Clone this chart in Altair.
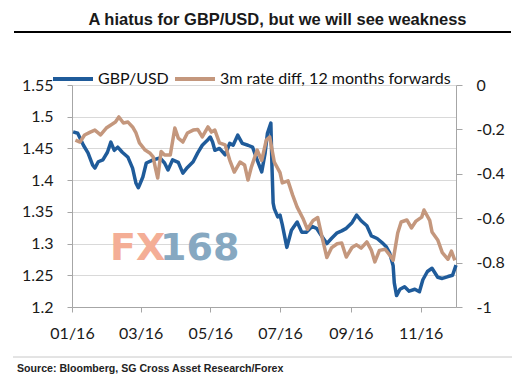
import altair as alt
import pandas as pd

title_text = "A hiatus for GBP/USD, but we will see weakness"
source_text = "Source: Bloomberg, SG Cross Asset Research/Forex"
series_names = ["GBP/USD", "3m rate diff, 12 months forwards"]
series_colors = ["#1F5B9A", "#C4977D"]

# days since 2016-01-01
gbp_days = [1, 5, 10, 14, 18, 20, 23, 27, 31, 34, 37, 40, 44, 49, 53, 56, 58, 59, 62, 65,
            71, 77, 81, 84, 88, 93, 97, 101, 106, 110, 114, 118, 121, 123, 125, 129, 134, 138, 141, 145,
            149, 154, 158, 162, 166, 169, 171, 174, 175, 176, 177, 180, 182, 184, 188, 192, 197, 201, 205, 210,
            214, 218, 223, 227, 232, 236, 240, 245, 249, 253, 258, 262, 267, 271, 275, 278, 281, 282, 284, 287,
            291, 295, 300, 304, 307, 311, 315, 320, 324, 329, 333, 336]
gbp_vals = [1.476, 1.474, 1.455, 1.443, 1.424, 1.419, 1.429, 1.432, 1.444, 1.460, 1.447, 1.452, 1.444, 1.436, 1.419, 1.395, 1.388, 1.392, 1.405, 1.427,
            1.432, 1.435, 1.427, 1.416, 1.432, 1.428, 1.411, 1.420, 1.429, 1.443, 1.455, 1.462, 1.468, 1.460, 1.447, 1.450, 1.440, 1.458, 1.455, 1.471,
            1.458, 1.455, 1.452, 1.432, 1.413, 1.443, 1.474, 1.490, 1.420, 1.364, 1.355, 1.342, 1.345, 1.330, 1.294, 1.321, 1.334, 1.318, 1.318, 1.327,
            1.324, 1.313, 1.300, 1.308, 1.317, 1.320, 1.324, 1.333, 1.345, 1.336, 1.328, 1.312, 1.308, 1.302, 1.295, 1.285, 1.265, 1.238, 1.218, 1.228,
            1.232, 1.225, 1.228, 1.224, 1.243, 1.256, 1.261, 1.247, 1.245, 1.248, 1.250, 1.266]

diff_days = [3, 7, 11, 16, 20, 25, 30, 34, 38, 41, 45, 49, 53, 56, 59, 64, 68, 71, 73, 75,
             78, 81, 86, 90, 93, 97, 101, 106, 110, 114, 119, 122, 125, 129, 134, 138, 142, 147, 151, 154,
             157, 162, 166, 170, 173, 177, 182, 184, 189, 193, 197, 202, 206, 211, 215, 219, 223, 227, 232, 236,
             240, 245, 249, 253, 258, 262, 265, 269, 274, 278, 281, 285, 288, 293, 297, 301, 306, 308, 313, 315,
             320, 324, 329, 332, 335]
diff_vals = [-0.248, -0.257, -0.225, -0.212, -0.203, -0.225, -0.194, -0.180, -0.167, -0.144, -0.171, -0.167, -0.189, -0.216, -0.261, -0.293, -0.306, -0.324, -0.374, -0.419,
             -0.300, -0.315, -0.315, -0.194, -0.239, -0.257, -0.216, -0.203, -0.200, -0.234, -0.189, -0.212, -0.203, -0.261, -0.270, -0.338, -0.392, -0.347, -0.360, -0.428,
             -0.369, -0.293, -0.340, -0.248, -0.234, -0.347, -0.395, -0.441, -0.432, -0.495, -0.550, -0.600, -0.650, -0.610, -0.597, -0.690, -0.777, -0.734, -0.715, -0.712,
             -0.775, -0.732, -0.720, -0.735, -0.707, -0.745, -0.797, -0.745, -0.740, -0.766, -0.790, -0.667, -0.617, -0.608, -0.644, -0.613, -0.595, -0.563, -0.610, -0.662,
             -0.698, -0.755, -0.785, -0.748, -0.790]

left_ticks = [1.2, 1.25, 1.3, 1.35, 1.4, 1.45, 1.5, 1.55]
right_ticks = [0, -0.2, -0.4, -0.6, -0.8, -1]
x_tick_months = [1, 3, 5, 7, 9, 11]

start = pd.Timestamp("2016-01-01")
gbp = pd.DataFrame({"date": start + pd.to_timedelta(gbp_days, unit="D"),
                    "rate": gbp_vals, "series": series_names[0]})
diff = pd.DataFrame({"date": start + pd.to_timedelta(diff_days, unit="D"),
                     "diff": diff_vals, "series": series_names[1]})

legend = alt.Legend(orient="none", legendX=-21, legendY=-28, direction="horizontal", title=None,
                    symbolType="stroke", symbolSize=1600, symbolStrokeWidth=4,
                    labelFont="Lato", labelFontSize=16, labelColor="#111111", labelLimit=400,
                    labelOffset=3, columnPadding=-2, padding=0, gridAlign="none")
color = alt.Color("series:N", scale=alt.Scale(domain=series_names, range=series_colors), legend=legend)

x = alt.X("date:T",
          scale=alt.Scale(domain=[alt.DateTime(year=2016, month=1, date=1),
                                  alt.DateTime(year=2016, month=12, date=2)]),
          axis=alt.Axis(values=[alt.DateTime(year=2016, month=m, date=1) for m in x_tick_months],
                        format="%m/%y", title=None, grid=False, tickSize=5, labelPadding=13,
                        labelFlush=False, labelOverlap=False))

blue = alt.Chart(gbp).mark_line(strokeWidth=3.5, strokeJoin="round").encode(
    x=x,
    y=alt.Y("rate:Q", scale=alt.Scale(domain=[1.2, 1.55], nice=False, zero=False),
            axis=alt.Axis(orient="left", values=left_ticks, labelExpr="'' + datum.value",
                          title=None, grid=True, tickSize=5, labelPadding=14)),
    color=color,
)

brown = alt.Chart(diff).mark_line(strokeWidth=3.5, strokeJoin="round").encode(
    x=x,
    y=alt.Y("diff:Q", scale=alt.Scale(domain=[-1, 0], nice=False, zero=False),
            axis=alt.Axis(orient="right", values=right_ticks, labelExpr="'' + datum.value",
                          title=None, grid=False, tickSize=6, labelPadding=14)),
    color=color,
)

one = pd.DataFrame({"t": [title_text]})
title = alt.Chart(one).mark_text(font="Liberation Sans", fontSize=16.5, fontWeight="bold",
                                 color="#1a1a1a", align="center", baseline="alphabetic").encode(
    text="t:N", x=alt.value(205.5), y=alt.value(-60))
title_rule = alt.Chart(one).mark_rule(color="#000000", strokeWidth=2).encode(
    x=alt.value(-58), x2=alt.value(439), y=alt.value(-53))
src_rule = alt.Chart(one).mark_rule(color="#c8c8c8", strokeWidth=1).encode(
    x=alt.value(-59), x2=alt.value(440), y=alt.value(272))
source = alt.Chart(pd.DataFrame({"t": [source_text]})).mark_text(
    font="Liberation Sans", fontSize=10.6, fontWeight="bold", color="#222222",
    align="left", baseline="alphabetic").encode(text="t:N", x=alt.value(-55), y=alt.value(287))

wm1 = alt.Chart(pd.DataFrame({"t": ["FX"]})).mark_text(
    font="DejaVu Sans", fontSize=38, fontWeight="bold", color="#F4AE96",
    align="left", baseline="alphabetic").encode(text="t:N", x=alt.value(38), y=alt.value(175))
wm2 = alt.Chart(pd.DataFrame({"t": ["168"]})).mark_text(
    font="DejaVu Sans", fontSize=38, fontWeight="bold", color="#86A8C1",
    align="left", baseline="alphabetic").encode(text="t:N", x=alt.value(88), y=alt.value(175))

chart = alt.layer(wm1, wm2, title, title_rule, src_rule, source, blue, brown).resolve_scale(
    y="independent"
).properties(
    width=384, height=222,
    autosize=alt.AutoSizeParams(type="none"),
    padding={"left": 64, "top": 77, "right": 60, "bottom": 67},
).configure_view(strokeWidth=0).configure_axis(
    domainColor="#a6a6a6", tickColor="#a6a6a6", gridColor="#d9d9d9",
    labelFont="Lato", labelFontSize=16, labelColor="#1a1a1a",
)

chart.save("out.html", embed_options={"renderer": "svg", "actions": False})
